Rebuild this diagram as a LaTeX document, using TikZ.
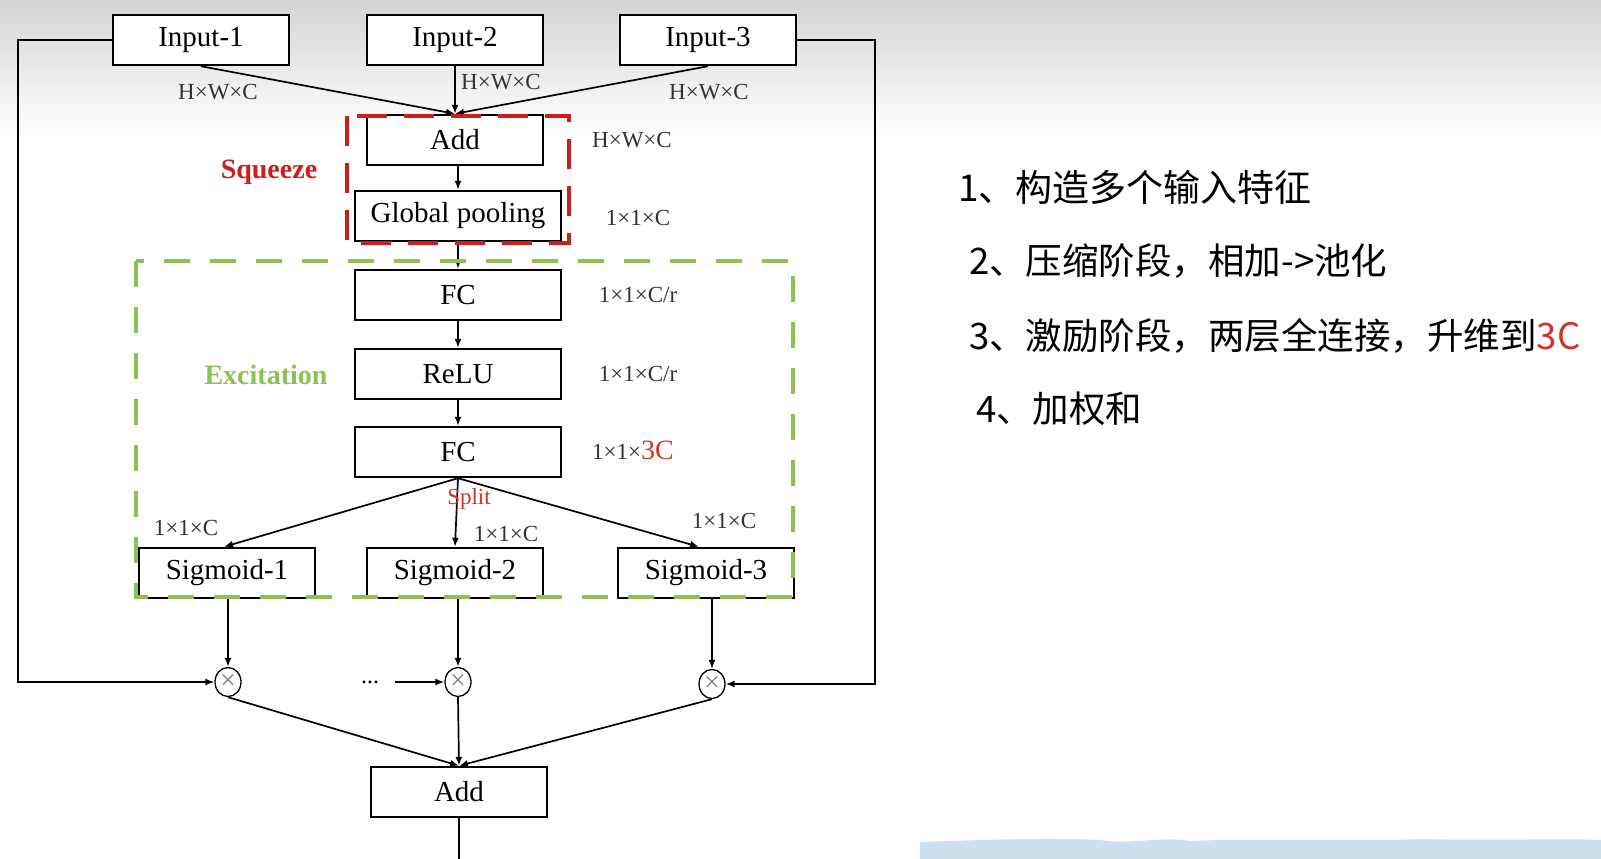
\documentclass[tikz,border=0pt]{standalone}
\usepackage{fontspec}
\setmainfont{Liberation Serif}
\newfontfamily\cjk{Noto Sans CJK SC}
\usetikzlibrary{arrows.meta,calc,shapes.geometric}
\definecolor{sqred}{RGB}{205,30,30}
\definecolor{exgreen}{RGB}{141,193,83}
\definecolor{dimgray}{RGB}{50,50,50}
\definecolor{bandblue}{RGB}{204,225,238}
\definecolor{txtred}{RGB}{208,52,40}
\tikzset{
  blk/.style={draw, line width=2.4pt, minimum width=176pt, minimum height=50pt, inner sep=0pt, fill=white, font=\fontsize{29}{30}\selectfont},
  wblk/.style={blk, minimum width=206pt},
  dimlab/.style={font=\fontsize{23}{24}\selectfont, text=dimgray, inner sep=0pt},
  conn/.style={line width=1.7pt, -{Latex[length=9pt,width=7pt]}},
  plainline/.style={line width=1.7pt},
  mult/.style={draw, ellipse, line width=1.3pt, minimum width=26pt, minimum height=29pt, inner sep=0pt, fill=white, text=gray, font=\fontsize{28}{28}\selectfont},
  stagelab/.style={font=\bfseries\fontsize{28}{30}\selectfont, inner sep=0pt},
  note/.style={anchor=west, inner sep=0pt, font=\cjk\fontsize{36.5}{38}\selectfont},
}
\begin{document}
\begin{tikzpicture}[x=1pt,y=-1pt]
\useasboundingbox (0,0) rectangle (1601,859);
\fill[white] (0,0) rectangle (1601,859);
\shade[top color={rgb,255:red,212;green,212;blue,212}, bottom color=white] (0,0) rectangle (1601,135);
% bottom right band
\fill[bandblue] (920,842) .. controls (1000,839) and (1060,838) .. (1100,840)
  .. controls (1130,845) and (1160,836) .. (1190,841)
  .. controls (1250,838) and (1350,842) .. (1420,839)
  .. controls (1500,841) and (1560,838) .. (1601,840) -- (1601,859) -- (920,859) -- cycle;

% nodes
\node[blk] (in1) at (201,40) {Input-1};
\node[blk] (in2) at (455,40) {Input-2};
\node[blk] (in3) at (708,40) {Input-3};
\node[blk] (add) at (455,140) {Add};
\node[wblk] (gp) at (458,216) {Global pooling};
\node[wblk] (fc1) at (458,295) {FC};
\node[wblk] (relu) at (458,374) {ReLU};
\node[wblk] (fc2) at (458,452) {FC};
\node[blk] (s1) at (227,573) {Sigmoid-1};
\node[blk] (s2) at (455,573) {Sigmoid-2};
\node[blk] (s3) at (706,573) {Sigmoid-3};
\node[mult] (m1) at (228,682) {×};
\node[mult] (m2) at (458,682) {×};
\node[mult] (m3) at (712,684) {×};
\node[blk] (add2) at (459,792) {Add};
\coordinate (outend) at (459,859);
\node[inner sep=0pt, font=\fontsize{24}{24}\selectfont] (dots) at (370,682) {...};

% connectors
\draw[conn] (in1.south) -- (add.north);
\draw[conn] (in2.south) -- (add.north);
\draw[conn] (in3.south) -- (add.north);
\draw[conn] (gp.north |- add.south) -- (gp.north);
\draw[conn] (gp.south) -- (fc1.north);
\draw[conn] (fc1.south) -- (relu.north);
\draw[conn] (relu.south) -- (fc2.north);
\draw[conn] (fc2.south) -- ($(s1.north)+(-3,0)$);
\draw[conn] (fc2.south) -- (s2.north);
\draw[conn] (fc2.south) -- ($(s3.north)+(-7,0)$);
\draw[conn] (m1 |- s1.south) -- (m1.north);
\draw[conn] (m2 |- s2.south) -- (m2.north);
\draw[conn] (m3 |- s3.south) -- (m3.north);
\draw[conn] (in1.west) -- ++(-94,0) |- (m1.west);
\draw[conn] (in3.east) -- ++(78,0) |- (m3.east);
\draw[conn] ($(dots.east)+(16,0)$) -- (m2.west);
\draw[conn] (m1.south) -- (add2.north);
\draw[conn] (m2.south) -- (add2.north);
\draw[conn] (m3.south) -- (add2.north);
\draw[plainline] (add2.south) -- (outend);

% group frames
\draw[sqred, line width=4.5pt, dash pattern=on 30pt off 17pt] (347,116) rectangle (569,243);
\draw[exgreen, line width=4pt, dash pattern=on 26pt off 20pt] (136,261) rectangle (793,597);

% labels
\node[stagelab, text=sqred] (sq) at (269,172) {Squeeze};
\node[stagelab, text=exgreen] (ex) at (266,375) {Excitation};
\node[dimlab] (d1) at (218,92) {H×W×C};
\node[dimlab] (d2) at (501,82) {H×W×C};
\node[dimlab] (d3) at (709,92) {H×W×C};
\node[dimlab] (d4) at (632,140) {H×W×C};
\node[dimlab] (d5) at (638,218) {1×1×C};
\node[dimlab] (d6) at (638,295) {1×1×C/r};
\node[dimlab] (d7) at (638,374) {1×1×C/r};
\node[dimlab, anchor=west] (d8) at (592,450) {1×1×\textcolor{txtred}{\fontsize{28}{28}\selectfont 3C}};
\node[inner sep=0pt, text=txtred, font=\fontsize{23}{24}\selectfont] (split) at (469,499) {Split};
\node[dimlab] (d9) at (186,528) {1×1×C};
\node[dimlab] (d10) at (506,534) {1×1×C};
\node[dimlab] (d11) at (724,521) {1×1×C};

% notes
\node[note, font=\cjk\fontsize{37}{40}\selectfont] (t1) at (958,187) {1、构造多个输入特征};
\node[note] (t2) at (969,261) {2、压缩阶段，相加->池化};
\node[note] (t3) at (969,336) {3、激励阶段，两层全连接，升维到\textcolor{txtred}{3C}};
\node[note] (t4) at (976,409) {4、加权和};
\end{tikzpicture}
\end{document}
